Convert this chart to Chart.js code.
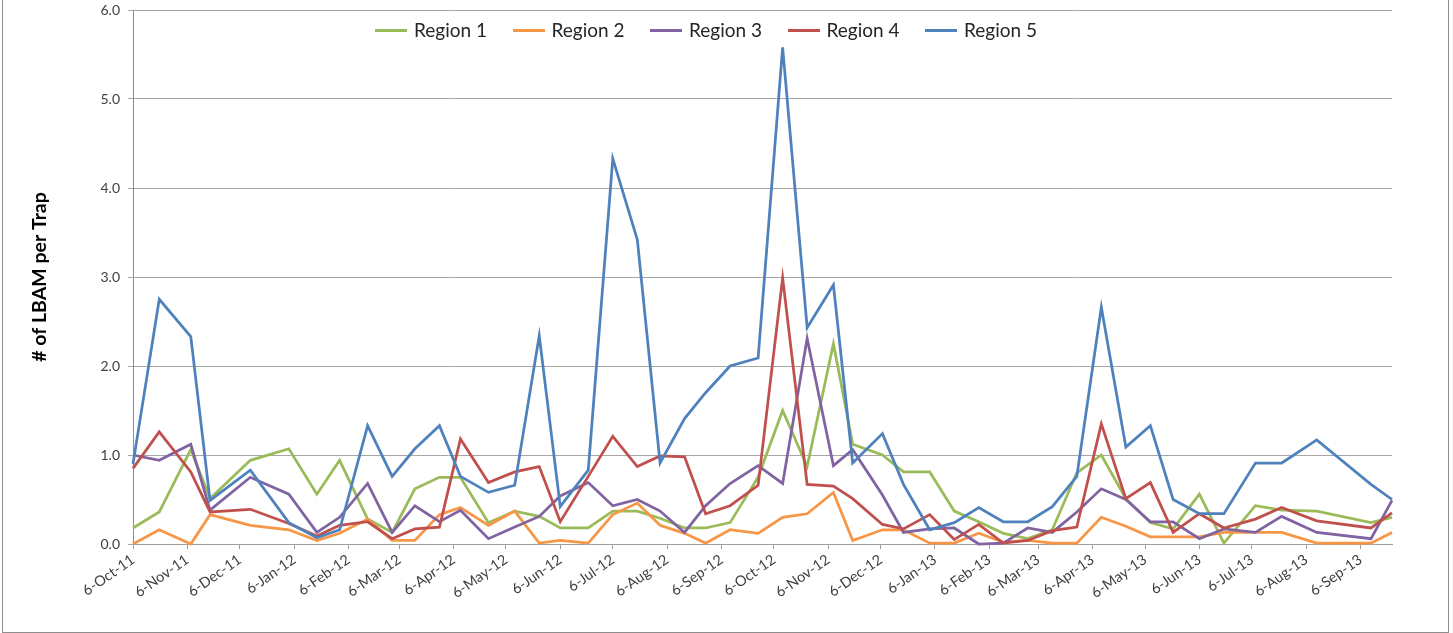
<!DOCTYPE html>
<html>
<head>
<meta charset="utf-8">
<script src="https://cdn.jsdelivr.net/npm/chart.js@4.4.0/dist/chart.umd.min.js"></script>
<style>
  body { margin: 0; background: #fff; }
  #wrap { position: relative; width: 1453px; height: 633px; overflow: hidden; }
  #frame { position: absolute; left: 2px; top: -10px; width: 1447px; height: 643px; border: 1.5px solid #8e8e8e; box-sizing: border-box; pointer-events: none; }
  #legend { position: absolute; left: 375px; top: 18px; font-family: Lato, sans-serif; font-size: 19px; color: #262626; white-space: nowrap; }
  .item { display: inline-block; width: 137.5px; }
  .item i { display: inline-block; width: 32px; height: 3px; vertical-align: middle; margin-right: 7px; margin-top: -3px; }
</style>
</head>
<body>
<div id="wrap">
  <canvas id="trapChart" width="1453" height="633"></canvas>
  <div id="legend"></div>
  <div id="frame"></div>
</div>
<script>
// sampling dates (trap checks)
const sampleDates = [
  '2011-10-06', '2011-10-21', '2011-11-08', '2011-11-19', '2011-12-12', '2012-01-03', '2012-01-19',
  '2012-02-01', '2012-02-17', '2012-03-02', '2012-03-15', '2012-03-29', '2012-04-10', '2012-04-26',
  '2012-05-11', '2012-05-25', '2012-06-06', '2012-06-22', '2012-07-06', '2012-07-20', '2012-08-02',
  '2012-08-16', '2012-08-28', '2012-09-11', '2012-09-27', '2012-10-11', '2012-10-25', '2012-11-09',
  '2012-11-20', '2012-12-07', '2012-12-19', '2013-01-03', '2013-01-17', '2013-01-31', '2013-02-14',
  '2013-02-28', '2013-03-14', '2013-03-28', '2013-04-11', '2013-04-25', '2013-05-09', '2013-05-22',
  '2013-06-06', '2013-06-20', '2013-07-08', '2013-07-23', '2013-08-12', '2013-09-12', '2013-09-24'
];

const region1 = [0.18, 0.36, 1.06, 0.51, 0.94, 1.07, 0.56, 0.94, 0.28, 0.13, 0.62, 0.75, 0.75, 0.24,
  0.37, 0.31, 0.18, 0.18, 0.37, 0.37, 0.29, 0.18, 0.18, 0.24, 0.75, 1.50, 0.87, 2.25, 1.12, 1.00,
  0.81, 0.81, 0.37, 0.25, 0.12, 0.06, 0.16, 0.80, 1.00, 0.51, 0.24, 0.17, 0.56, 0.01, 0.43, 0.38,
  0.37, 0.24, 0.30];
const region2 = [0.00, 0.16, 0.00, 0.33, 0.21, 0.16, 0.04, 0.12, 0.28, 0.04, 0.04, 0.33, 0.41, 0.21,
  0.37, 0.01, 0.04, 0.01, 0.33, 0.46, 0.21, 0.12, 0.01, 0.16, 0.12, 0.30, 0.34, 0.58, 0.04, 0.16,
  0.16, 0.01, 0.01, 0.12, 0.02, 0.04, 0.01, 0.01, 0.30, 0.20, 0.08, 0.08, 0.08, 0.13, 0.13, 0.13,
  0.01, 0.01, 0.13];
const region3 = [1.00, 0.94, 1.12, 0.38, 0.75, 0.56, 0.13, 0.30, 0.68, 0.13, 0.43, 0.25, 0.38, 0.06,
  0.19, 0.31, 0.54, 0.69, 0.43, 0.50, 0.37, 0.13, 0.43, 0.68, 0.88, 0.68, 2.31, 0.88, 1.06, 0.55,
  0.13, 0.17, 0.18, 0.00, 0.01, 0.18, 0.13, 0.36, 0.62, 0.50, 0.25, 0.25, 0.06, 0.17, 0.13, 0.31,
  0.13, 0.06, 0.49];
const region4 = [0.85, 1.26, 0.81, 0.36, 0.39, 0.23, 0.09, 0.21, 0.25, 0.06, 0.17, 0.19, 1.18, 0.69,
  0.81, 0.87, 0.25, 0.76, 1.21, 0.87, 0.99, 0.98, 0.34, 0.43, 0.66, 2.99, 0.67, 0.65, 0.51, 0.22,
  0.17, 0.33, 0.05, 0.22, 0.01, 0.04, 0.15, 0.19, 1.35, 0.51, 0.69, 0.13, 0.34, 0.18, 0.28, 0.41,
  0.26, 0.18, 0.35];
const region5 = [0.90, 2.75, 2.33, 0.49, 0.83, 0.24, 0.07, 0.16, 1.33, 0.76, 1.07, 1.33, 0.76, 0.58,
  0.66, 2.34, 0.42, 0.83, 4.33, 3.42, 0.91, 1.41, 1.70, 2.00, 2.09, 5.58, 2.43, 2.91, 0.91, 1.24,
  0.67, 0.16, 0.24, 0.41, 0.25, 0.25, 0.42, 0.76, 2.66, 1.09, 1.33, 0.50, 0.34, 0.34, 0.91, 0.91,
  1.17, 0.67, 0.50];

const tickLabels = ['6-Oct-11', '6-Nov-11', '6-Dec-11', '6-Jan-12', '6-Feb-12', '6-Mar-12', '6-Apr-12',
  '6-May-12', '6-Jun-12', '6-Jul-12', '6-Aug-12', '6-Sep-12', '6-Oct-12', '6-Nov-12', '6-Dec-12',
  '6-Jan-13', '6-Feb-13', '6-Mar-13', '6-Apr-13', '6-May-13', '6-Jun-13', '6-Jul-13', '6-Aug-13', '6-Sep-13'];

const regionNames = ['Region 1', 'Region 2', 'Region 3', 'Region 4', 'Region 5'];
const regionColors = ['#9bbb59', '#f79646', '#8064a2', '#c0504d', '#4f81bd'];

const months = ['Jan', 'Feb', 'Mar', 'Apr', 'May', 'Jun', 'Jul', 'Aug', 'Sep', 'Oct', 'Nov', 'Dec'];
const day0 = Date.parse(sampleDates[0]);
const toDay = ms => Math.round((ms - day0) / 86400000);
const sampleDays = sampleDates.map(d => toDay(Date.parse(d)));
const tickDays = tickLabels.map(l => {
  const p = l.split('-');
  return toDay(Date.UTC(2000 + Number(p[2]), months.indexOf(p[1]), Number(p[0])));
});

const allSeries = [region1, region2, region3, region4, region5];
const fontName = 'Lato, sans-serif';

// html legend, sits inside the plot like the excel one
const legend = document.getElementById('legend');
regionNames.forEach((name, i) => {
  legend.innerHTML += '<span class="item"><i style="background:' + regionColors[i] + '"></i>' + name + '</span>';
});

new Chart(document.getElementById('trapChart'), {
  type: 'line',
  data: {
    datasets: allSeries.map((vals, i) => ({
      label: regionNames[i],
      data: vals.map((v, j) => ({ x: sampleDays[j], y: v })),
      borderColor: regionColors[i],
      backgroundColor: regionColors[i],
      borderWidth: 2.75,
      pointRadius: 0,
      tension: 0,
      clip: false,
      order: 5 - i
    }))
  },
  options: {
    responsive: false,
    animation: false,
    layout: { padding: { left: 24, right: 61, top: 10, bottom: 0 } },
    plugins: { legend: { display: false }, tooltip: { enabled: false } },
    scales: {
      x: {
        type: 'linear',
        min: sampleDays[0],
        max: sampleDays[sampleDays.length - 1],
        afterBuildTicks: scale => { scale.ticks = tickDays.map(v => ({ value: v })); },
        afterFit: scale => { scale.height = 89; },
        grid: { drawOnChartArea: false, drawTicks: true, tickLength: 5, color: '#a0a0a0' },
        border: { color: '#a0a0a0', width: 1 },
        ticks: {
          autoSkip: false,
          minRotation: 35,
          maxRotation: 35,
          padding: 2,
          color: '#404040',
          font: { family: fontName, size: 14.5 },
          callback: (value, index) => tickLabels[index]
        }
      },
      y: {
        min: 0,
        max: 6,
        afterFit: scale => {
          scale.width = 109;
          // let the plot start right at the layout padding
          scale.paddingTop = 0;
          scale.paddingBottom = 0;
        },
        grid: { color: '#a6a6a6', tickLength: 5 },
        border: { color: '#8c8c8c', width: 1 },
        ticks: {
          stepSize: 1,
          padding: 8,
          color: '#404040',
          font: { family: fontName, size: 14 },
          callback: v => v.toFixed(1)
        },
        title: {
          display: true,
          text: '# of LBAM per Trap',
          color: '#000',
          font: { family: fontName, size: 19.5, weight: 'bold' }
        }
      }
    }
  }
});
</script>
</body>
</html>
